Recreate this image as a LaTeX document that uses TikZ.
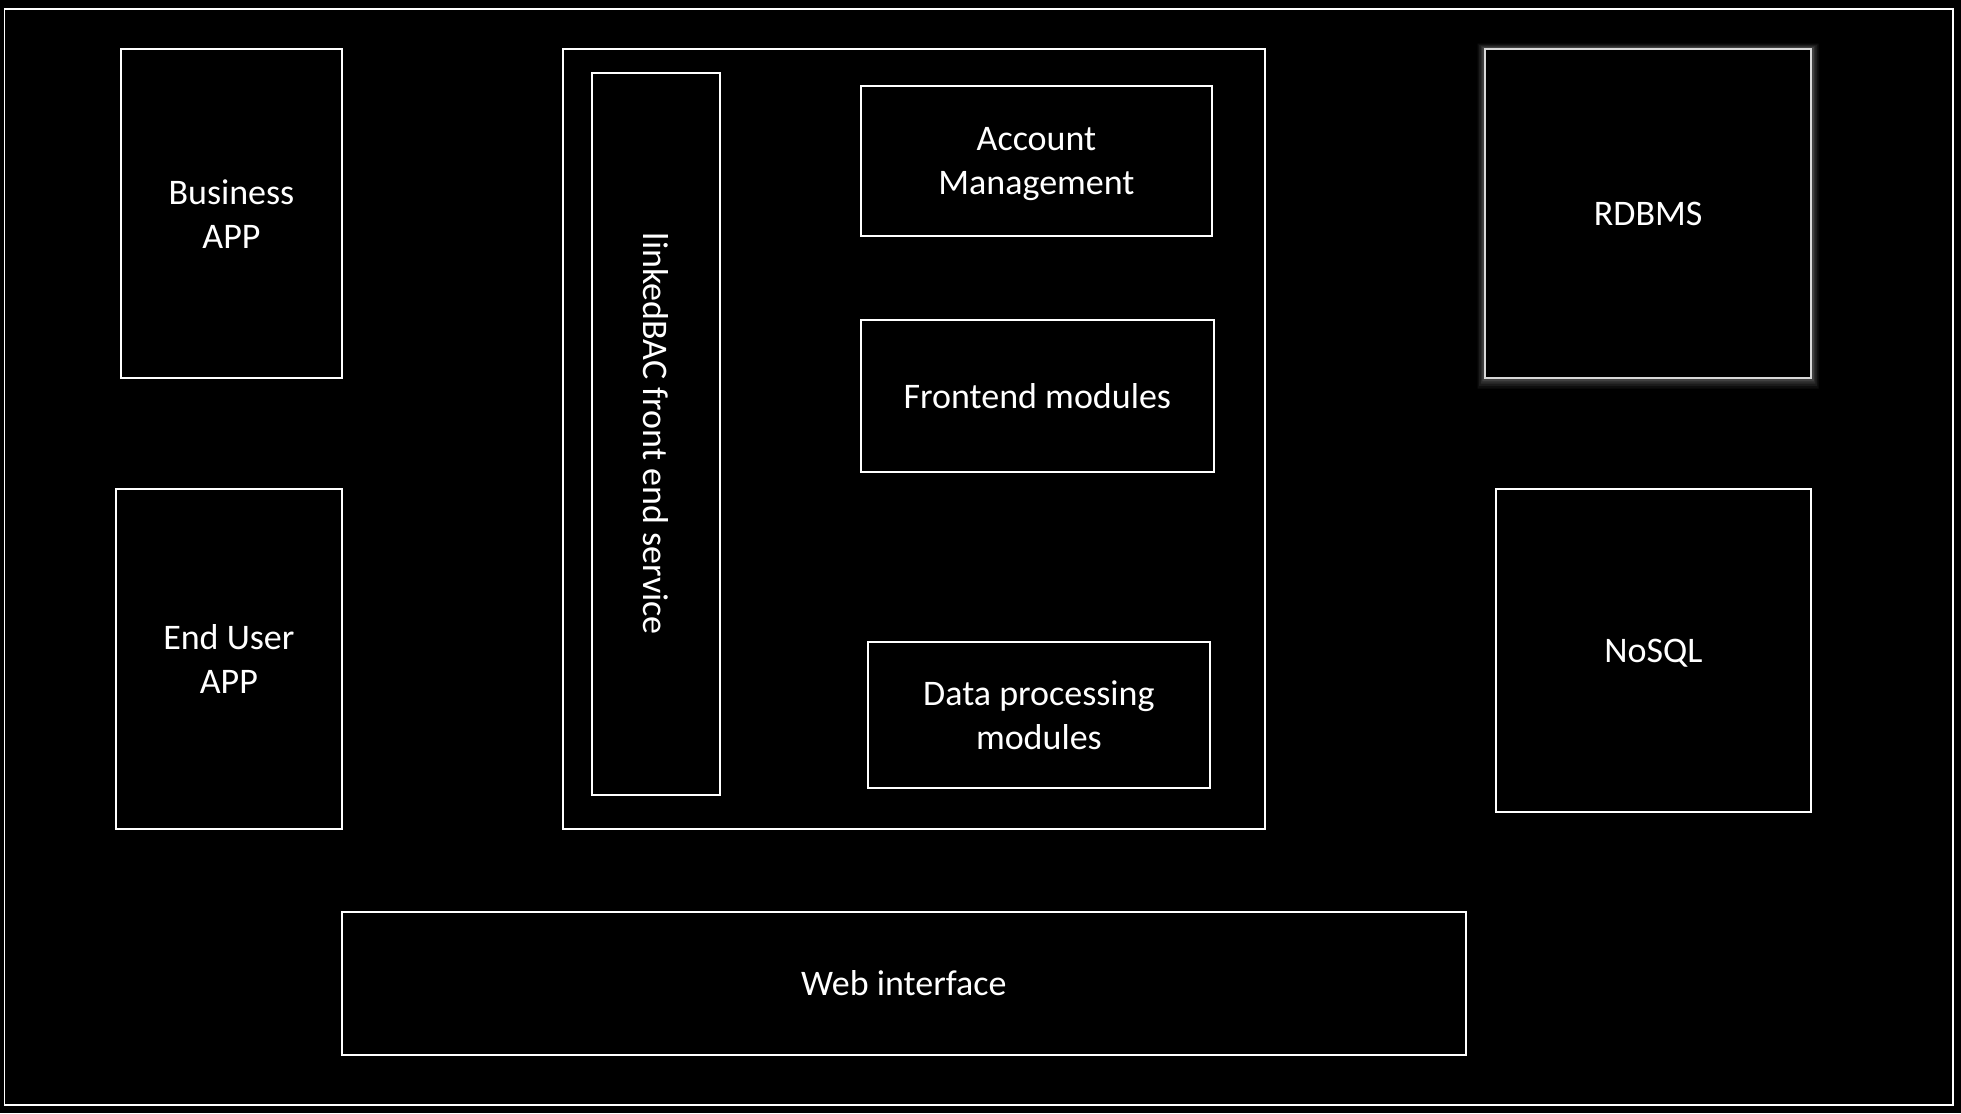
\documentclass[tikz,border=0pt]{standalone}
\usepackage{fontspec}
\setmainfont{Carlito}
\begin{document}
\begin{tikzpicture}[x=1pt,y=-1pt,
  box/.style={draw=white, line width=2pt, rectangle, inner sep=0pt, outer sep=0pt,
    text=white, align=center, font=\fontsize{36}{44}\selectfont},
  frame/.style={draw=white, line width=1.6pt, rectangle, inner sep=0pt, outer sep=0pt},
  lbl/.style={text=white, align=center, font=\fontsize{36}{44}\selectfont, inner sep=0pt}]
\fill[black] (0,0) rectangle (1961,1113);
\useasboundingbox (0,0) rectangle (1961,1113);

\node[frame, minimum width=1948.4pt, minimum height=1095.7pt] (outer) at (978.6,557.15) {};

\node[box, minimum width=221.9pt, minimum height=329pt] (business) at (231.45,213.8) {Business\\APP};
\node[box, minimum width=226.3pt, minimum height=340pt] (enduser) at (228.85,659) {End User\\APP};

\node[box, minimum width=702pt, minimum height=780pt] (container) at (914,439) {};
\node[box, minimum width=127.7pt, minimum height=722.3pt] (linked) at (656.15,433.85) {};
\node[lbl, rotate=-90] (linkedtxt) at (linked.center) {linkedBAC front end service};

\node[box, minimum width=351.1pt, minimum height=149.7pt] (account) at (1036.45,160.85) {};
\node[lbl] (accounttxt) at ([yshift=-3.5pt]account.center) {Account\\Management};
\node[box, minimum width=353pt, minimum height=151.5pt] (frontend) at (1037.4,395.75) {Frontend modules};
\node[box, minimum width=342.2pt, minimum height=146pt] (data) at (1038.9,715) {Data processing\\modules};

% RDBMS glow (outside only, slightly stronger below)
\foreach \d/\o in {9/0.05, 7/0.06, 5/0.08, 3/0.10}{
  \fill[white, opacity=\o, even odd rule]
    (1484.8-\d*0.8,49-\d*0.6) rectangle (1811.4+\d*0.8,377.7+\d*1.2)
    (1484.8,49) rectangle (1811.4,377.7);
}
\node[box, draw={rgb,255:red,216;green,216;blue,216}, minimum width=326.6pt, minimum height=328.7pt] (rdbms) at (1648.1,213.35) {};
\node[lbl] (rdbmstxt) at ([yshift=-1pt]rdbms.center) {RDBMS};
\node[box, minimum width=315.3pt, minimum height=322.7pt] (nosql) at (1653.35,650.35) {};
\node[lbl] (nosqltxt) at ([yshift=-2.5pt]nosql.center) {NoSQL};

\node[box, minimum width=1124.3pt, minimum height=143pt] (web) at (903.85,983.5) {Web interface};
\end{tikzpicture}
\end{document}
